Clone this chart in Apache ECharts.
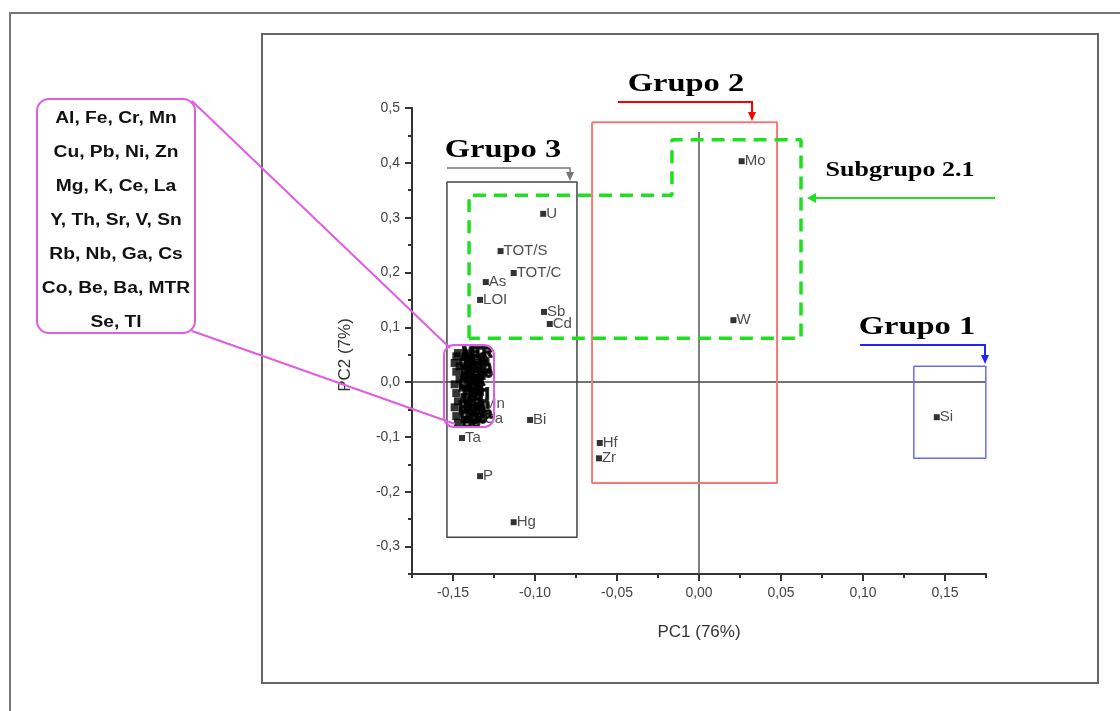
<!DOCTYPE html>
<html>
<head>
<meta charset="utf-8">
<script src="https://cdn.jsdelivr.net/npm/echarts@6/dist/echarts.min.js"></script>
<style>
html,body{margin:0;padding:0;background:#fff;}
#chart{width:1120px;height:711px;}
</style>
</head>
<body>
<div id="chart"></div>
<script>
// ---- Data ----
const outlierNames = ['Mo','W','U','TOT/S','TOT/C','As','LOI','Sb','Cd','Mn','Ca','Bi','Ta','P','Hg','Hf','Zr','Si'];
const outlierPC1 = [0.026,0.021,-0.095,-0.121,-0.113,-0.130,-0.1335,-0.0945,-0.091,-0.133,-0.133,-0.103,-0.1445,-0.1335,-0.113,-0.0605,-0.061,0.145];
const outlierPC2 = [0.403,0.113,0.307,0.239,0.199,0.1825,0.150,0.128,0.106,-0.040,-0.0675,-0.069,-0.102,-0.1715,-0.2555,-0.111,-0.139,-0.064];

const clusterNames = ['MTR','Al','Fe','Ba','Cr','Cu','Pb','Ni','Se','Zn','Mg','K','Ce','La','Y','Th','Tl','Sr','V','Sn','Rb','Nb','Ga','Cs','Co','Be'];
const clusterPC1 = [-0.147,-0.148,-0.142,-0.141,-0.149,-0.146,-0.140,-0.148,-0.139,-0.143,-0.146,-0.139,-0.149,-0.144,-0.140,-0.148,-0.138,-0.143,-0.147,-0.141,-0.149,-0.144,-0.140,-0.148,-0.143,-0.147];
const clusterPC2 = [0.053,0.047,0.045,0.038,0.035,0.029,0.025,0.019,0.017,0.012,0.005,0.001,-0.004,-0.010,-0.016,-0.020,-0.024,-0.027,-0.035,-0.041,-0.046,-0.052,-0.058,-0.062,-0.068,-0.074];

const grupo1Box = [[0.131, 0.029], [0.1749, -0.139]];
const grupo2Box = [[-0.0652, 0.474], [0.0476, -0.184]];
const grupo3Box = [[-0.1537, 0.365], [-0.0744, -0.283]];
const subgrupo21Path = [[-0.1402,0.080],[-0.1402,0.341],[-0.0165,0.341],[-0.0165,0.442],[0.0622,0.442],[0.0622,0.080],[-0.1402,0.080]];
const zeroH = [[-0.175, 0], [0.175, 0]];
const zeroV = [[0, -0.35], [0, 0.456]];

const xTicks = [-0.15,-0.10,-0.05,0,0.05,0.10,0.15];
const yTicks = [-0.3,-0.2,-0.1,0,0.1,0.2,0.3,0.4,0.5];
const clusterList = ['Al, Fe, Cr, Mn','Cu, Pb, Ni, Zn','Mg, K, Ce, La','Y, Th, Sr, V, Sn','Rb, Nb, Ga, Cs','Co, Be, Ba, MTR','Se, Tl'];

// ---- helpers ----
function rectPath(b){
  const [x0,y0]=b[0],[x1,y1]=b[1];
  return [[x0,y0],[x1,y0],[x1,y1],[x0,y1],[x0,y0]];
}
function pts(n,x,y){ return n.map((nm,i)=>[x[i],y[i],nm]); }

const SANS = '"Liberation Sans", Arial, sans-serif';
const SERIF = '"Liberation Serif", "Times New Roman", serif';
const fmtX = v => (Math.abs(v)<1e-9?0:v).toFixed(2).replace('.',',');
const fmtY = v => (Math.abs(v)<1e-9?0:v).toFixed(1).replace('.',',');

function boxSeries(data,color,width,type){
  return {type:'line',data:data,symbol:'none',silent:true,clip:false,z:1,
    lineStyle:{color:color,width:width,type:type||'solid'},animation:false};
}
const pointLabel = {show:true,position:'right',distance:0,formatter:p=>p.data[2],
  fontFamily:SANS,fontSize:15,color:'#222'};

const chart = echarts.init(document.getElementById('chart'));

function headText(txt,x,y,size,sx){
  return {type:'text',x:x,y:y,scaleX:sx,z:50,
    style:{text:txt,x:0,y:0,align:'center',verticalAlign:'middle',
      font:'bold '+size+'px '+SERIF,fill:'#000'}};
}
function arrowDown(x,y,color){
  return {type:'polygon',z:50,shape:{points:[[x-4,y-9],[x+4,y-9],[x,y]]},style:{fill:color}};
}

const graphics = [
  {type:'rect',z:0,shape:{x:10,y:13,width:1140,height:740},style:{fill:null,stroke:'#777',lineWidth:2}},
  {type:'rect',z:0,shape:{x:262,y:34,width:836,height:649},style:{fill:null,stroke:'#666',lineWidth:2}},
  {type:'rect',z:50,shape:{x:37,y:99,width:158,height:234,r:12},style:{fill:null,stroke:'#e05ce0',lineWidth:2}},
  {type:'polyline',z:50,shape:{points:[[192,101],[450,348]]},style:{stroke:'#e05ce0',lineWidth:2}},
  {type:'polyline',z:50,shape:{points:[[192,331],[455,424]]},style:{stroke:'#e05ce0',lineWidth:2}},
  {type:'rect',z:50,shape:{x:444,y:345,width:50,height:82,r:10},style:{fill:null,stroke:'#e05ce0',lineWidth:2}},
  // Grupo 2
  headText('Grupo 2',686,84,26,1.25),
  {type:'polyline',z:50,shape:{points:[[618,102],[752,102],[752,112]]},style:{stroke:'#ff0000',lineWidth:2}},
  arrowDown(752,121,'#ff0000'),
  // Grupo 3
  headText('Grupo 3',503,150,26,1.25),
  {type:'polyline',z:50,shape:{points:[[447,168],[570,168],[570,174]]},style:{stroke:'#777',lineWidth:1.5}},
  arrowDown(570,181,'#777'),
  // Subgrupo 2.1
  headText('Subgrupo 2.1',900,171,20,1.3),
  {type:'polyline',z:50,shape:{points:[[995,198],[814,198]]},style:{stroke:'#22dd22',lineWidth:2}},
  {type:'polygon',z:50,shape:{points:[[816,193],[816,203],[807,198]]},style:{fill:'#22dd22'}},
  // Grupo 1
  headText('Grupo 1',917,327,26,1.25),
  {type:'polyline',z:50,shape:{points:[[860,345],[985,345],[985,355]]},style:{stroke:'#2222ff',lineWidth:2}},
  arrowDown(985,364,'#2222ff')
];
clusterList.forEach((t,i)=>{
  graphics.push({type:'text',z:50,x:116,y:119+i*34,scaleX:1.2,style:{text:t,x:0,y:0,align:'center',verticalAlign:'middle',
    font:'bold 16px '+SANS,fill:'#111'}});
});

const option = {
  animation:false,
  backgroundColor:'#fff',
  grid:{left:412,right:134,top:108,bottom:137,containLabel:false},
  xAxis:[{
    type:'value',min:-0.175,max:0.175,interval:0.025,
    name:'PC1 (76%)',nameLocation:'middle',nameGap:50,
    nameTextStyle:{fontFamily:SANS,fontSize:17,color:'#333'},
    axisLine:{onZero:false,lineStyle:{color:'#333',width:2}},
    axisTick:{show:true,length:7,customValues:xTicks,lineStyle:{color:'#333',width:2}},
    axisLabel:{customValues:xTicks,formatter:fmtX,fontFamily:SANS,fontSize:14,color:'#444',margin:12},
    splitLine:{show:false}
  },{
    type:'value',min:-0.175,max:0.175,interval:0.025,position:'bottom',
    axisLine:{show:false,onZero:false},axisLabel:{show:false},splitLine:{show:false},
    axisTick:{show:true,length:4,lineStyle:{color:'#333',width:2}}
  }],
  yAxis:[{
    type:'value',min:-0.35,max:0.5,interval:0.05,
    name:'PC2 (7%)',nameLocation:'middle',nameGap:58,
    nameTextStyle:{fontFamily:SANS,fontSize:17,color:'#333',padding:[0,28,0,0]},
    axisLine:{onZero:false,lineStyle:{color:'#333',width:2}},
    axisTick:{show:true,length:7,customValues:yTicks,lineStyle:{color:'#333',width:2}},
    axisLabel:{customValues:yTicks,formatter:fmtY,fontFamily:SANS,fontSize:14,color:'#444',margin:12},
    splitLine:{show:false}
  },{
    type:'value',min:-0.35,max:0.5,interval:0.05,position:'left',
    axisLine:{show:false,onZero:false},axisLabel:{show:false},splitLine:{show:false},
    axisTick:{show:true,length:4,lineStyle:{color:'#333',width:2}}
  }],
  series:[
    boxSeries(zeroH,'#444',1.5),
    boxSeries(zeroV,'#555',1.5),
    boxSeries(rectPath(grupo3Box),'#444',1.5),
    boxSeries(rectPath(grupo2Box),'#f47a7a',2),
    boxSeries(rectPath(grupo1Box),'#6b6bf5',1.5),
    Object.assign(boxSeries(subgrupo21Path,'#1ee01e',3.5,[13,8]),{z:3}),
    {type:'scatter',data:pts(clusterNames,clusterPC1,clusterPC2),symbol:'rect',symbolSize:8,
      itemStyle:{color:'#000'},
      label:Object.assign({},pointLabel,{color:'#000',fontSize:14,fontWeight:'bold',textBorderColor:'#000',textBorderWidth:2}),
      labelLayout:{hideOverlap:false},z:5},
    {type:'scatter',data:pts(outlierNames,outlierPC1,outlierPC2),symbol:'rect',symbolSize:6,
      itemStyle:{color:'#000'},label:pointLabel,labelLayout:{hideOverlap:false},z:5}
  ],
  graphic:graphics
};
chart.setOption(option);
</script>
</body>
</html>
